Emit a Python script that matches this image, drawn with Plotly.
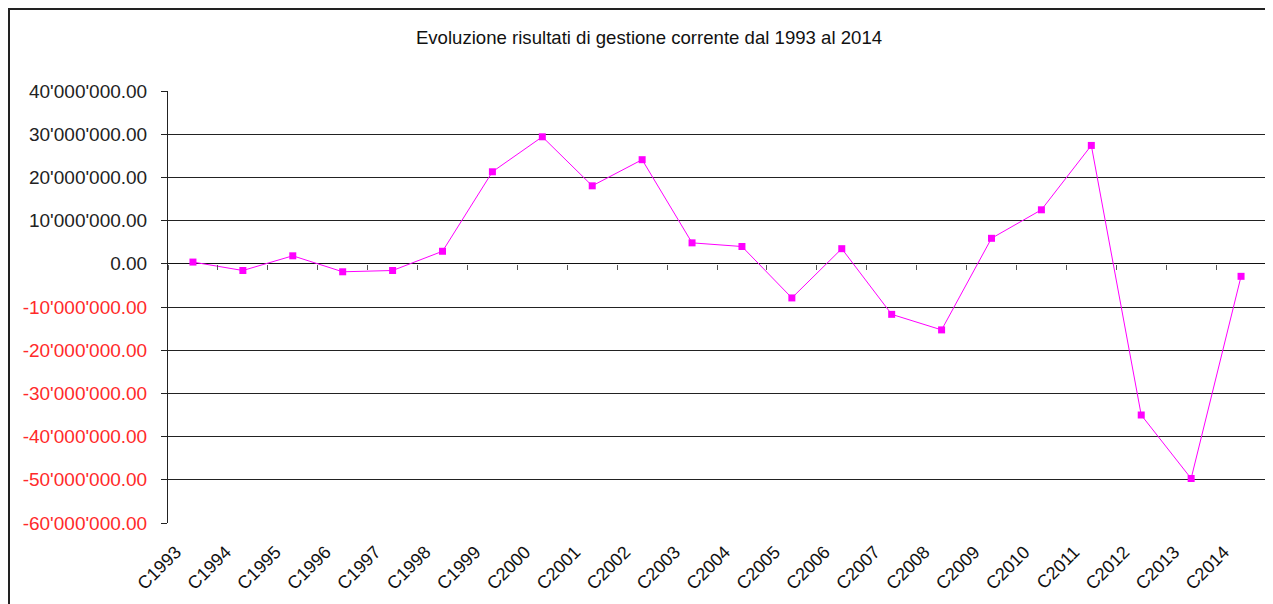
import plotly.graph_objects as go

categories = ["C1993", "C1994", "C1995", "C1996", "C1997", "C1998", "C1999", "C2000",
              "C2001", "C2002", "C2003", "C2004", "C2005", "C2006", "C2007", "C2008",
              "C2009", "C2010", "C2011", "C2012", "C2013", "C2014"]
values = [0.4e6, -1.55e6, 1.85e6, -1.85e6, -1.55e6, 2.9e6, 21.3e6, 29.4e6,
          18.05e6, 24.1e6, 4.85e6, 4.0e6, -7.9e6, 3.5e6, -11.7e6, -15.3e6,
          5.9e6, 12.5e6, 27.4e6, -35.0e6, -49.7e6, -2.9e6]
y_tickvals = [40e6, 30e6, 20e6, 10e6, 0, -10e6, -20e6, -30e6, -40e6, -50e6, -60e6]
y_ticktext = ["40'000'000.00", "30'000'000.00", "20'000'000.00", "10'000'000.00", "0.00",
              "-10'000'000.00", "-20'000'000.00", "-30'000'000.00", "-40'000'000.00",
              "-50'000'000.00", "-60'000'000.00"]
title_text = "Evoluzione risultati di gestione corrente dal 1993 al 2014"

# page body has an 8px margin; figure coordinates are offset accordingly
OFF = 8
W, H = 1273 - OFF, 604 - OFF
L, R, T, B = 168 - OFF, 1266 - OFF, 91 - OFF, 523 - OFF
ymin, ymax = -60e6, 40e6

ticktext_colored = [
    (f'<span style="color:#ff2a2a">{t}</span>' if v < 0 else t)
    for v, t in zip(y_tickvals, y_ticktext)
]

fig = go.Figure()
fig.add_trace(go.Scatter(
    x=categories, y=values, mode="lines+markers",
    line=dict(color="#ff00ff", width=1),
    marker=dict(symbol="square", size=7, color="#ff00ff"),
    showlegend=False, hoverinfo="x+y",
))
# helper trace for the tick axis at zero
fig.add_trace(go.Scatter(
    x=categories, y=values, xaxis="x2", mode="markers",
    marker=dict(opacity=0), showlegend=False, hoverinfo="skip",
))

font_family = "Liberation Sans, Arial, sans-serif"
zero_pos = (0 - ymin) / (ymax - ymin)

fig.update_layout(
    width=W, height=H,
    margin=dict(l=L, r=W - R, t=T, b=H - B, pad=0, autoexpand=False),
    paper_bgcolor="white", plot_bgcolor="white",
    font=dict(family=font_family, color="#222"),
    title=dict(text=title_text, x=(649 - OFF) / W, xanchor="center",
               y=1 - (37 - OFF) / H, yanchor="middle", yref="container",
               font=dict(size=18.6, color="#111", family=font_family)),
    xaxis=dict(
        type="category", showgrid=False, zeroline=False, showline=False,
        automargin=False,
        ticks="", tickangle=-45, tickfont=dict(size=18, color="#111"),
        ticklabelshift=-17, ticklabelstandoff=14,
        range=[-0.5, len(categories) - 0.5],
    ),
    xaxis2=dict(
        type="category", overlaying="x", anchor="free", position=zero_pos,
        automargin=False,
        showgrid=False, zeroline=False, showline=False, showticklabels=False,
        ticks="outside", ticklen=5, tickcolor="#555", tickwidth=1,
        tickson="boundaries", range=[-0.5, len(categories) - 0.5], matches="x",
    ),
    yaxis=dict(
        range=[ymin, ymax], tickvals=y_tickvals, ticktext=ticktext_colored,
        automargin=False,
        showgrid=True, gridcolor="#222", gridwidth=1,
        zeroline=True, zerolinecolor="#111", zerolinewidth=1,
        showline=True, linecolor="#222", linewidth=1,
        ticks="outside", ticklen=6, tickcolor="#222",
        ticklabelstandoff=10,
        tickfont=dict(size=19, color="#222"),
    ),
)

# outer chart border (left/top edges visible; right/bottom run off the page)
fig.add_shape(type="rect", xref="paper", yref="paper",
              x0=(1 - L) / (R - L), x1=(W + 20 - L) / (R - L),
              y0=(B - (H + 20)) / (B - T), y1=(B - 1) / (B - T),
              line=dict(color="#222", width=2), layer="above")

fig.write_html("out.html")
